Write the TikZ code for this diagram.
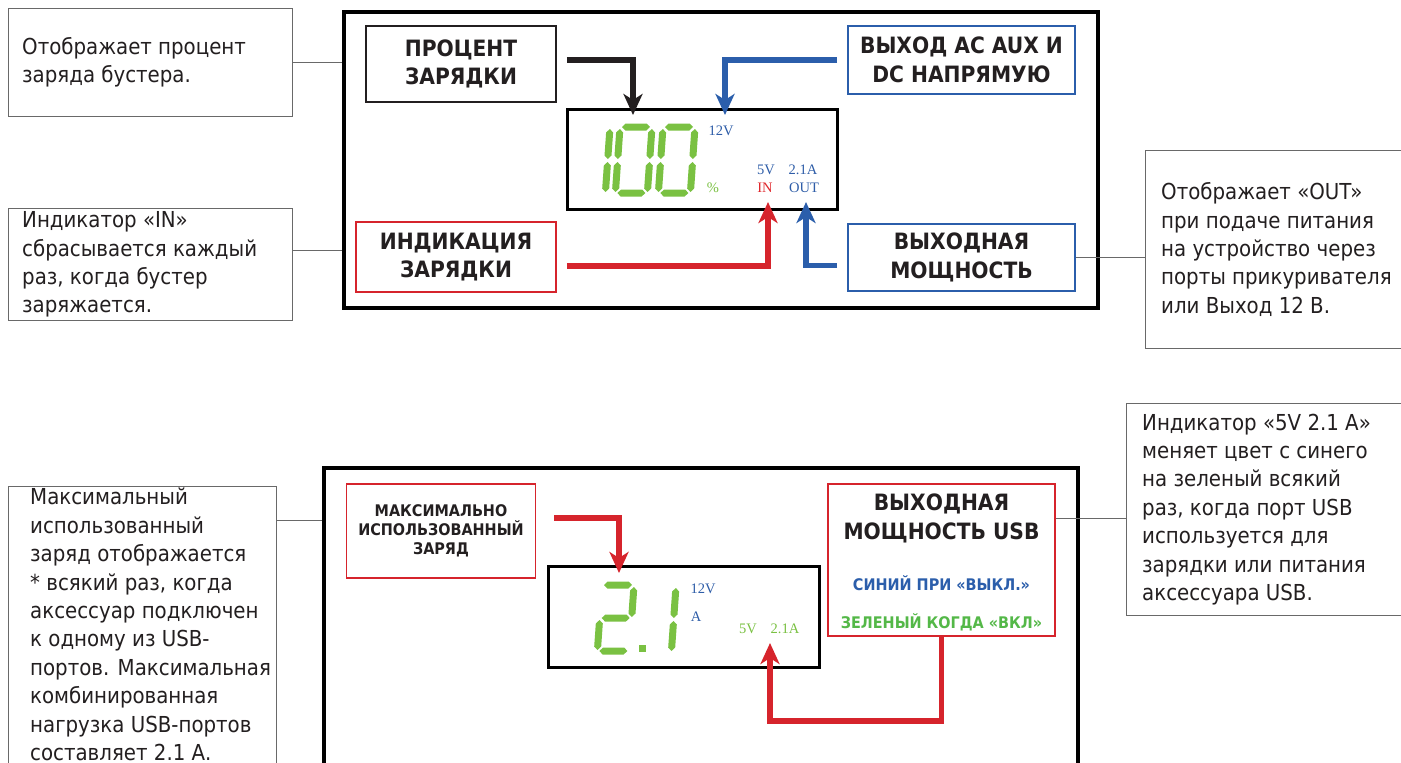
\documentclass[tikz,border=0pt]{standalone}
\usepackage{fontspec}
\setmainfont{DejaVu Sans Condensed}
\newfontfamily\lcdfont{Liberation Serif}
\usetikzlibrary{arrows.meta, positioning}

\definecolor{inkblack}{RGB}{35,31,32}
\definecolor{notegray}{RGB}{105,105,105}
\definecolor{tagblue}{RGB}{43,94,171}
\definecolor{tagred}{RGB}{214,36,44}
\definecolor{lcdgreen}{RGB}{122,193,66}
\definecolor{lcdblue}{RGB}{46,93,168}
\definecolor{lcdred}{RGB}{224,40,45}
\definecolor{usbgreen}{RGB}{84,184,72}

% one bevelled segment of the seven-segment readout: x, y, length
\newcommand{\lcdsegh}[3]{\fill[lcdgreen] (#1,#2) -- ++(3.5,-3.5) -- ++(#3-7,0) -- ++(3.5,3.5) -- ++(-3.5,3.5) -- ++(7-#3,0) -- cycle;}
\newcommand{\lcdsegv}[3]{\fill[lcdgreen] (#1,#2) -- ++(3.5,3.5) -- ++(0,#3-7) -- ++(-3.5,3.5) -- ++(-3.5,-3.5) -- ++(0,7-#3) -- cycle;}

\tikzset{
  lcd one/.pic={\begin{scope}[xslant=0.07]
      \lcdsegv{32}{2}{30}\lcdsegv{32}{35}{30}
    \end{scope}},
  lcd zero/.pic={\begin{scope}[xslant=0.07]
      \lcdsegh{2}{0}{28}\lcdsegv{32}{2}{30}\lcdsegv{32}{35}{30}
      \lcdsegh{2}{66}{28}\lcdsegv{0}{35}{30}\lcdsegv{0}{2}{30}
    \end{scope}},
  lcd two/.pic={\begin{scope}[xslant=0.07]
      \lcdsegh{2}{0}{28}\lcdsegv{32}{2}{30}\lcdsegh{2}{33}{28}
      \lcdsegv{0}{35}{30}\lcdsegh{2}{66}{28}
    \end{scope}}
}

\begin{document}
\begin{tikzpicture}[x=1pt, y=-1pt,
    note/.style={draw=notegray, line width=1pt, inner sep=0pt},
    notetext/.style={align=left, inner sep=0pt, text=inkblack,
                     font=\fontsize{22}{28.4}\selectfont},
    tag/.style={draw=inkblack, line width=1.6pt, align=center, inner sep=0pt,
                text=inkblack, font=\bfseries\fontsize{22.5}{28.5}\selectfont},
    tagtext/.style={align=center, inner sep=0pt, text=inkblack,
                    font=\bfseries\fontsize{22.5}{28.5}\selectfont},
    panel/.style={draw=black, line width=3.5pt, inner sep=0pt},
    lcd/.style={draw=black, line width=3pt, inner sep=0pt},
    lcdtxt/.style={font=\lcdfont\fontsize{14.5}{16}\selectfont, inner sep=0pt},
    lead/.style={draw=notegray, line width=1pt},
    arr/.style={line width=5.5pt, -{Stealth[length=21pt, width=19pt, inset=6pt]}}
  ]
  \useasboundingbox (0,0) rectangle (1401,763);
  \fill[white] (0,0) rectangle (1401,763);

  % upper panel
  \node[panel, minimum width=754pt, minimum height=296pt, anchor=north west] (panel1) at (342,10) {};
  \node[lcd, minimum width=270pt, minimum height=100pt, anchor=north west] (lcd1) at (566,108) {};

  \pic at (578,127) {lcd one};
  \pic at (620,127) {lcd zero};
  \pic at (663,127) {lcd zero};
  \node[lcdtxt, text=lcdblue] (volt1) at (721,131) {12V};
  \node[lcdtxt, text=lcdgreen] (pctsign) at (713,188) {\%};
  \node[lcdtxt, text=lcdblue] (fivev1) at (766,170) {5V};
  \node[lcdtxt, text=lcdblue] (amp1) at (803,170) {2.1A};
  \node[lcdtxt, text=lcdred] (inmark) at (765,188) {IN};
  \node[lcdtxt, text=lcdblue] (outmark) at (804,188) {OUT};

  \node[tag, minimum width=190pt, minimum height=76pt] (pctbox) at (461,64) {ПРОЦЕНТ\\ЗАРЯДКИ};
  \node[tag, draw=tagblue, minimum width=227pt, minimum height=68pt] (acbox) at (961.5,60) {ВЫХОД AC AUX И\\DC НАПРЯМУЮ};
  \node[tag, draw=tagred, minimum width=200pt, minimum height=70pt] (inbox) at (456,257) {ИНДИКАЦИЯ\\ЗАРЯДКИ};
  \node[tag, draw=tagblue, minimum width=227pt, minimum height=67pt] (outbox) at (961.5,257.5) {ВЫХОДНАЯ\\МОЩНОСТЬ};

  \coordinate (pctpin) at (633,115);
  \coordinate (acpin) at (725,115);
  \coordinate (inpin) at (768,202);
  \coordinate (outpin) at (806,202);
  \draw[arr, inkblack] ([xshift=10pt,yshift=4pt]pctbox.east) -| (pctpin);
  \draw[arr, tagblue] ([xshift=-10pt]acbox.west) -| (acpin);
  \draw[arr, tagred] ([xshift=10pt,yshift=-9pt]inbox.east) -| (inpin);
  \draw[arr, tagblue] ([xshift=-10pt,yshift=-8pt]outbox.west) -| (outpin);

  % notes round the upper panel
  \node[note, minimum width=284pt, minimum height=108pt, anchor=north west] (chargenote) at (8,8) {};
  \node[notetext, anchor=west] (chargetext) at ([xshift=14pt]chargenote.west) {Отображает процент\\заряда бустера.};
  \node[note, minimum width=284pt, minimum height=112pt, anchor=north west] (innote) at (8,208) {};
  \node[notetext, anchor=west] (intext) at ([xshift=14pt]innote.west) {Индикатор «IN»\\сбрасывается каждый\\раз, когда бустер\\заряжается.};
  \node[note, minimum width=290pt, minimum height=198pt, anchor=north west] (outnote) at (1145,150) {};
  \node[notetext, anchor=west] (outtext) at ([xshift=16pt]outnote.west) {Отображает «OUT»\\при подаче питания\\на устройство через\\порты прикуривателя\\или Выход 12 В.};

  \draw[lead] (chargenote.east) -- (chargenote.east -| panel1.west);
  \draw[lead] ([yshift=14pt]innote.east) -- ([yshift=14pt]innote.east -| panel1.west);
  \draw[lead] (outbox.east) -- (outbox.east -| outnote.west);

  % lower panel
  \node[panel, minimum width=754pt, minimum height=400pt, anchor=north west] (panel2) at (322,466) {};
  \node[lcd, minimum width=271pt, minimum height=101pt, anchor=north west] (lcd2) at (547,565) {};

  \pic at (602,585) {lcd two};
  \fill[lcdgreen] (639,645) rectangle (646,652);
  \pic at (644,586) {lcd one};
  \node[lcdtxt, text=lcdblue] (volt2) at (703,589) {12V};
  \node[lcdtxt, text=lcdblue] (amp2) at (696,617) {A};
  \node[lcdtxt, text=lcdgreen] (fivev2) at (748,629) {5V};
  \node[lcdtxt, text=lcdgreen] (usbamp) at (785,629) {2.1A};

  \node[tag, draw=tagred, minimum width=189pt, minimum height=94pt,
        font=\bfseries\fontsize{16}{19}\selectfont] (maxbox) at (441,531) {МАКСИМАЛЬНО\\ИСПОЛЬЗОВАННЫЙ\\ЗАРЯД};
  \node[tag, draw=tagred, minimum width=227pt, minimum height=152pt] (usbbox) at (941.5,560) {};
  \node[tagtext] (usbtitle) at (941.5,518.5) {ВЫХОДНАЯ\\МОЩНОСТЬ USB};
  \node[tagtext, text=tagblue, font=\bfseries\fontsize{16}{19}\selectfont] (usboff) at (941.5,583) {СИНИЙ ПРИ «ВЫКЛ.»};
  \node[tagtext, text=usbgreen, font=\bfseries\fontsize{16}{19}\selectfont] (usbon) at (941.5,622) {ЗЕЛЕНЫЙ КОГДА «ВКЛ»};

  \coordinate (maxpin) at (619,573);
  \coordinate (usbpin) at (770,643);
  \draw[arr, tagred] ([xshift=18pt,yshift=13pt]maxbox.east) -| (maxpin);
  \draw[arr, tagred] (usbbox.south) -- ++(0,84) -| (usbpin);

  % notes round the lower panel
  \node[note, minimum width=268pt, minimum height=320pt, anchor=north west] (maxnote) at (8,486) {};
  \node[notetext, anchor=north west] (maxtext) at ([xshift=22pt,yshift=-2pt]maxnote.north west) {Максимальный\\использованный\\заряд отображается\\* всякий раз, когда\\аксессуар подключен\\к одному из USB-\\портов. Максимальная\\комбинированная\\нагрузка USB-портов\\составляет 2.1 А.};
  \node[note, minimum width=300pt, minimum height=212pt, anchor=north west] (usbnote) at (1126,403) {};
  \node[notetext, anchor=west] (usbtext) at ([xshift=16pt]usbnote.west) {Индикатор «5V 2.1 А»\\меняет цвет с синего\\на зеленый всякий\\раз, когда порт USB\\используется для\\зарядки или питания\\аксессуара USB.};

  \draw[lead] ([yshift=-34pt]maxnote.north east) -- ([yshift=-34pt]maxnote.north east -| panel2.west);
  \draw[lead] ([yshift=-9pt]usbnote.west) -- ([yshift=-9pt]usbnote.west -| usbbox.east);
\end{tikzpicture}
\end{document}
